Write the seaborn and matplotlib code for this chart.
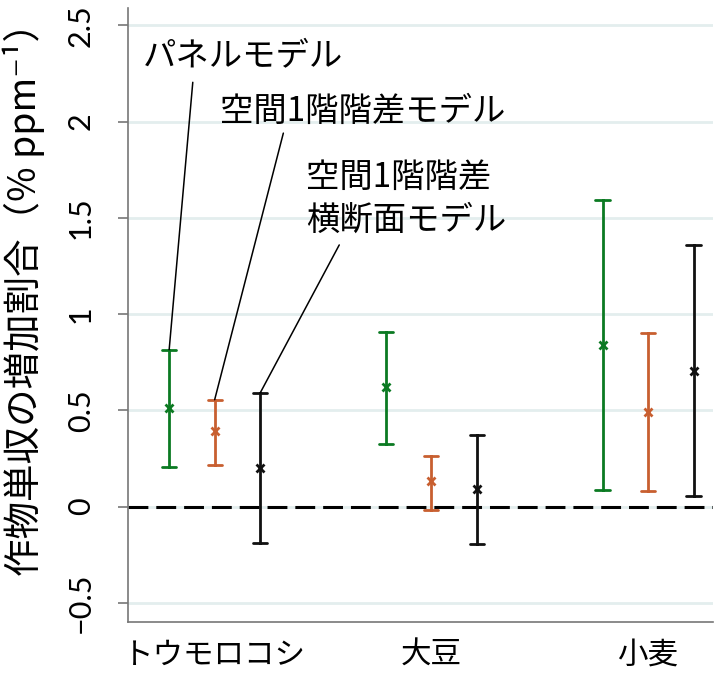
import matplotlib
matplotlib.use("Agg")
import matplotlib.pyplot as plt
import seaborn as sns
import pandas as pd

# ---- data ----
crops = ["トウモロコシ", "大豆", "小麦"]
models = ["パネルモデル", "空間1階階差モデル", "空間1階階差横断面モデル"]
panel_est = [0.51, 0.62, 0.84]
panel_lo = [0.205, 0.327, 0.088]
panel_hi = [0.815, 0.908, 1.59]
fd_est = [0.39, 0.13, 0.49]
fd_lo = [0.218, -0.016, 0.083]
fd_hi = [0.555, 0.265, 0.90]
cs_est = [0.20, 0.09, 0.705]
cs_lo = [-0.187, -0.197, 0.057]
cs_hi = [0.59, 0.373, 1.36]
yticks = [-0.5, 0, 0.5, 1, 1.5, 2, 2.5]
colors = ["#0b7a22", "#c85f30", "#111111"]

rows = []
for m, (lo, es, hi) in zip(models, [(panel_lo, panel_est, panel_hi),
                                     (fd_lo, fd_est, fd_hi),
                                     (cs_lo, cs_est, cs_hi)]):
    for c, a, b, d in zip(crops, lo, es, hi):
        for v in (a, b, d):
            rows.append({"crop": c, "model": m, "value": v})
df = pd.DataFrame(rows)

sns.set_theme(style="white")
plt.rcParams["font.family"] = ["Noto Sans CJK JP", "DejaVu Sans"]
plt.rcParams["text.color"] = "black"
plt.rcParams["axes.labelcolor"] = "black"
plt.rcParams["xtick.color"] = "black"
plt.rcParams["ytick.color"] = "black"

fig = plt.figure(figsize=(7.2, 6.74), dpi=100)
ax = fig.add_axes([128 / 720, 52 / 674, (713 - 128) / 720, (622 - 8) / 674])

DODGE = 0.42
sns.pointplot(data=df, x="crop", y="value", hue="model", order=crops,
              hue_order=models, estimator="median", errorbar=("pi", 100),
              dodge=DODGE, linestyle="none", markers="x", palette=colors,
              capsize=0.065, err_kws={"linewidth": 2.0}, markersize=6,
              markeredgewidth=2.0, legend=False, ax=ax)

ax.set_xlim(-0.4, 2.3)
ax.set_ylim(-0.6, 2.59)
ax.set_yticks(yticks)
ax.set_yticklabels([("−" if t < 0 else "") + f"{abs(t):g}" for t in yticks],
                   rotation=90, va="center", fontfamily="Lato", fontsize=22)
ax.set_xticks(range(len(crops)))
ax.set_xticklabels(crops, fontsize=22)
ax.tick_params(axis="y", length=7, width=1.2, color="#777777", labelcolor="black",
               pad=17, left=True)
ax.tick_params(axis="x", length=0, pad=13, labelcolor="black")
ax.set_xlabel("")
ax.set_ylabel("作物単収の増加割合（% ppm⁻¹）", fontsize=27, color="black")
ax.yaxis.set_label_coords(-0.142, 0.54)

ax.yaxis.grid(True, color="#e3eeee", linewidth=2)
ax.set_axisbelow(True)
for s in ("top", "right"):
    ax.spines[s].set_visible(False)
for s in ("left", "bottom"):
    ax.spines[s].set_color("#777777")
    ax.spines[s].set_linewidth(1.2)

ax.axhline(0, color="black", lw=2.2, ls=(0, (6.5, 2.6)), zorder=1)

# ---- annotations ----
off = DODGE / 2
ax.text(-0.331, 2.344, "パネルモデル", fontsize=24, ha="left", va="center")
ax.text(0.023, 2.054, "空間1階階差モデル", fontsize=24, ha="left", va="center")
ax.text(0.423, 1.712, "空間1階階差", fontsize=24, ha="left", va="center")
ax.text(0.423, 1.489, "横断面モデル", fontsize=24, ha="left", va="center")
lk = dict(arrowstyle="-", color="black", lw=1.1, shrinkA=0, shrinkB=0)
ax.annotate("", xy=(-off, panel_hi[0]), xytext=(-0.101, 2.204), arrowprops=lk)
ax.annotate("", xy=(0, fd_hi[0]), xytext=(0.317, 1.94), arrowprops=lk)
ax.annotate("", xy=(off, cs_hi[0]), xytext=(0.575, 1.359), arrowprops=lk)

fig.savefig("out.png", dpi=100)
